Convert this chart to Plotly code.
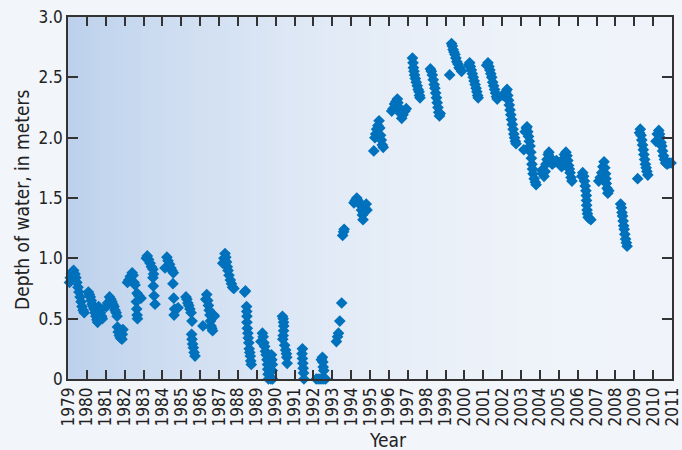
import plotly.graph_objects as go

# ---------------- data (decimal year, depth of water in meters) ----------------
dates_a = [
    1979.08, 1979.12, 1979.18, 1979.24, 1979.30, 1979.37, 1979.42, 1979.47, 1979.53, 1979.58, 1979.64, 1979.69, 1979.74, 1979.80, 1979.86,
    1980.08, 1980.13, 1980.18, 1980.23, 1980.28, 1980.33, 1980.38, 1980.43, 1980.48, 1980.53, 1980.57, 1980.62, 1980.67, 1980.72, 1980.78, 1980.82,
    1981.03, 1981.10, 1981.20, 1981.27, 1981.33, 1981.38, 1981.44, 1981.49, 1981.55, 1981.60, 1981.62, 1981.66, 1981.72, 1981.78, 1981.86, 1981.91, 1981.88,
    1982.15, 1982.22, 1982.30, 1982.40, 1982.45, 1982.50, 1982.55, 1982.66, 1982.75, 1982.87, 1982.62, 1982.64, 1982.66, 1982.68,
    1983.15, 1983.20, 1983.27, 1983.35, 1983.42, 1983.50, 1983.53, 1983.50, 1983.52, 1983.56, 1983.61,
    1984.14, 1984.24, 1984.30, 1984.38, 1984.45, 1984.51, 1984.58, 1984.56, 1984.60, 1984.65, 1984.62, 1984.83,
    1985.25, 1985.30, 1985.35, 1985.40, 1985.46, 1985.52, 1985.57, 1985.55, 1985.57, 1985.60, 1985.64, 1985.68, 1985.73,
    1986.15, 1986.30, 1986.35, 1986.40, 1986.44, 1986.48, 1986.52, 1986.55, 1986.58, 1986.62, 1986.66, 1986.72, 1986.75,
]
depth_a = [
    0.80, 0.84, 0.87, 0.89, 0.90, 0.87, 0.84, 0.80, 0.76, 0.72, 0.68, 0.64, 0.60, 0.57, 0.55,
    0.72, 0.70, 0.68, 0.65, 0.62, 0.60, 0.58, 0.55, 0.52, 0.49, 0.47, 0.60, 0.57, 0.55, 0.52, 0.50,
    0.60, 0.63, 0.68, 0.66, 0.64, 0.62, 0.60, 0.57, 0.55, 0.52, 0.43, 0.39, 0.36, 0.34, 0.33, 0.41, 0.37,
    0.80, 0.82, 0.85, 0.88, 0.86, 0.80, 0.78, 0.71, 0.69, 0.67, 0.64, 0.58, 0.53, 0.50,
    1.00, 1.02, 0.99, 0.96, 0.93, 0.91, 0.87, 0.84, 0.77, 0.69, 0.62,
    0.92, 1.01, 0.98, 0.95, 0.92, 0.90, 0.88, 0.79, 0.67, 0.58, 0.53, 0.59,
    0.68, 0.66, 0.63, 0.61, 0.58, 0.55, 0.48, 0.37, 0.33, 0.29, 0.26, 0.22, 0.19,
    0.44, 0.66, 0.70, 0.65, 0.61, 0.57, 0.53, 0.48, 0.44, 0.42, 0.40, 0.53, 0.52,
]

dates_b = [
    1987.20, 1987.26, 1987.32, 1987.36, 1987.40, 1987.44, 1987.48, 1987.53, 1987.60, 1987.66, 1987.72, 1987.79,
    1988.36, 1988.40, 1988.46, 1988.47, 1988.48, 1988.48, 1988.50, 1988.53, 1988.55, 1988.58, 1988.60, 1988.63, 1988.66, 1988.68, 1988.71,
    1989.22, 1989.30, 1989.34, 1989.38, 1989.42, 1989.46, 1989.50, 1989.54, 1989.57, 1989.58, 1989.60, 1989.62, 1989.75, 1989.84, 1989.78, 1989.80, 1989.83, 1989.82,
    1990.36, 1990.40, 1990.42, 1990.43, 1990.42, 1990.40, 1990.38, 1990.48, 1990.53, 1990.57, 1990.59, 1990.61,
    1991.42, 1991.40, 1991.42, 1991.44, 1991.46, 1991.48, 1991.50,
    1992.15, 1992.25, 1992.35, 1992.45, 1992.55, 1992.65, 1992.42, 1992.48, 1992.50, 1992.52, 1992.55,
    1993.22, 1993.28, 1993.33, 1993.40, 1993.50, 1993.55, 1993.60, 1993.63,
    1994.15, 1994.22, 1994.30, 1994.36, 1994.42, 1994.50, 1994.55, 1994.60, 1994.63, 1994.66, 1994.72, 1994.80, 1994.84,
]
depth_b = [
    0.96, 1.00, 1.04, 1.01, 0.97, 0.93, 0.90, 0.86, 0.82, 0.79, 0.76, 0.75,
    0.72, 0.73, 0.60, 0.56, 0.52, 0.47, 0.42, 0.38, 0.34, 0.30, 0.25, 0.22, 0.19, 0.15, 0.12,
    0.31, 0.38, 0.35, 0.30, 0.27, 0.23, 0.20, 0.16, 0.12, 0.08, 0.04, 0.00, 0.00, 0.00, 0.20, 0.16, 0.12, 0.07,
    0.52, 0.50, 0.47, 0.44, 0.40, 0.36, 0.33, 0.28, 0.24, 0.21, 0.18, 0.13,
    0.25, 0.21, 0.17, 0.13, 0.09, 0.05, 0.00,
    0.00, 0.00, 0.00, 0.00, 0.00, 0.00, 0.16, 0.18, 0.14, 0.10, 0.07,
    0.31, 0.35, 0.38, 0.48, 0.63, 1.19, 1.22, 1.24,
    1.46, 1.48, 1.50, 1.48, 1.46, 1.44, 1.40, 1.36, 1.32, 1.38, 1.42, 1.45, 1.40,
]

dates_c = [
    1995.20, 1995.26, 1995.30, 1995.35, 1995.42, 1995.48, 1995.52, 1995.56, 1995.60, 1995.65, 1995.70,
    1996.15, 1996.22, 1996.30, 1996.38, 1996.45, 1996.48, 1996.55, 1996.62, 1996.68, 1996.75, 1996.85, 1996.92,
    1997.25, 1997.28, 1997.30, 1997.33, 1997.36, 1997.40, 1997.45, 1997.50, 1997.55, 1997.60, 1997.62, 1997.65,
    1998.20, 1998.25, 1998.30, 1998.35, 1998.40, 1998.44, 1998.48, 1998.52, 1998.56, 1998.60, 1998.64, 1998.68, 1998.72,
    1999.22, 1999.32, 1999.36, 1999.40, 1999.45, 1999.50, 1999.55, 1999.60, 1999.66, 1999.72, 1999.78, 1999.85,
    2000.22, 2000.28, 2000.32, 2000.37, 2000.42, 2000.47, 2000.52, 2000.57, 2000.62, 2000.66, 2000.70, 2000.73,
    2001.18, 2001.25, 2001.30, 2001.35, 2001.40, 2001.45, 2001.50, 2001.55, 2001.60, 2001.65, 2001.70, 2001.74,
    2002.05, 2002.20, 2002.26, 2002.30, 2002.34, 2002.38, 2002.42, 2002.46, 2002.50, 2002.54, 2002.58, 2002.62, 2002.66, 2002.70, 2002.74,
]
depth_c = [
    1.89, 2.00, 2.03, 2.07, 2.10, 2.14, 2.08, 2.02, 1.98, 1.94, 1.92,
    2.22, 2.24, 2.28, 2.30, 2.32, 2.29, 2.25, 2.20, 2.16, 2.19, 2.22, 2.24,
    2.66, 2.62, 2.58, 2.55, 2.52, 2.49, 2.46, 2.43, 2.40, 2.38, 2.35, 2.33,
    2.57, 2.55, 2.52, 2.48, 2.44, 2.41, 2.37, 2.33, 2.29, 2.25, 2.21, 2.18, 2.20,
    2.52, 2.78, 2.76, 2.73, 2.71, 2.69, 2.66, 2.63, 2.61, 2.58, 2.57, 2.55,
    2.60, 2.62, 2.59, 2.56, 2.53, 2.50, 2.47, 2.44, 2.41, 2.38, 2.35, 2.33,
    2.60, 2.62, 2.59, 2.56, 2.53, 2.50, 2.46, 2.43, 2.40, 2.37, 2.34, 2.32,
    2.35, 2.38, 2.40, 2.35, 2.31, 2.27, 2.23, 2.19, 2.15, 2.11, 2.07, 2.03, 2.00, 1.97, 1.95,
]

dates_d = [
    2003.15, 2003.22, 2003.28, 2003.32, 2003.36, 2003.40, 2003.44, 2003.48, 2003.52, 2003.55, 2003.58, 2003.61, 2003.64, 2003.70, 2003.76, 2003.80,
    2004.10, 2004.15, 2004.22, 2004.28, 2004.32, 2004.38, 2004.44, 2004.48, 2004.52, 2004.58, 2004.65, 2004.72, 2004.80, 2004.88,
    2005.08, 2005.15, 2005.22, 2005.30, 2005.38, 2005.44, 2005.48, 2005.52, 2005.56, 2005.60, 2005.65, 2005.70,
    2006.22, 2006.27, 2006.32, 2006.36, 2006.40, 2006.44, 2006.46, 2006.47, 2006.48, 2006.50, 2006.52, 2006.56, 2006.62, 2006.70,
    2007.12, 2007.20, 2007.28, 2007.34, 2007.40, 2007.44, 2007.48, 2007.50, 2007.52, 2007.56, 2007.60, 2007.65,
    2008.28, 2008.32, 2008.35, 2008.38, 2008.41, 2008.44, 2008.47, 2008.50, 2008.54, 2008.58, 2008.62,
    2009.18, 2009.28, 2009.32, 2009.36, 2009.40, 2009.44, 2009.48, 2009.51, 2009.55, 2009.59, 2009.63, 2009.67, 2009.72,
    2010.15, 2010.22, 2010.30, 2010.34, 2010.38, 2010.42, 2010.46, 2010.50, 2010.55, 2010.60, 2010.66, 2010.74, 2010.85, 2010.95,
]
depth_d = [
    1.90, 2.05, 2.08, 2.09, 2.05, 2.01, 1.97, 1.93, 1.88, 1.83, 1.78, 1.74, 1.70, 1.66, 1.63, 1.61,
    1.73, 1.70, 1.68, 1.72, 1.78, 1.82, 1.86, 1.88, 1.84, 1.80, 1.78, 1.79, 1.80, 1.81,
    1.79, 1.76, 1.82, 1.86, 1.88, 1.85, 1.81, 1.77, 1.74, 1.71, 1.67, 1.64,
    1.68, 1.71, 1.68, 1.64, 1.60, 1.56, 1.52, 1.48, 1.44, 1.40, 1.37, 1.34, 1.33, 1.32,
    1.64, 1.67, 1.71, 1.76, 1.80, 1.75, 1.70, 1.66, 1.62, 1.58, 1.54, 1.56,
    1.45, 1.42, 1.38, 1.35, 1.31, 1.27, 1.24, 1.20, 1.16, 1.13, 1.10,
    1.66, 2.04, 2.07, 2.02, 1.98, 1.94, 1.90, 1.86, 1.82, 1.78, 1.75, 1.72, 1.69,
    1.97, 2.03, 2.06, 2.03, 2.00, 1.96, 1.93, 1.89, 1.85, 1.82, 1.79, 1.78, 1.79, 1.79,
]

year_ticks = list(range(1979, 2012))
depth_ticks = [0, 0.5, 1.0, 1.5, 2.0, 2.5, 3.0]
depth_tick_text = ["0", "0.5", "1.0", "1.5", "2.0", "2.5", "3.0"]

dates = dates_a + dates_b + dates_c + dates_d
depths = depth_a + depth_b + depth_c + depth_d

# ---------------- figure ----------------
FONT = "Liberation Sans Narrow, DejaVu Sans Condensed, Arial Narrow, sans-serif"
AX = "#333333"
TXT = "#222222"
PAGE = "#f2f5fa"

fig = go.Figure()
fig.add_trace(go.Scatter(
    x=dates, y=depths, mode="markers",
    marker=dict(symbol="diamond", size=9, color="#0071bc", line=dict(width=0)),
    cliponaxis=False, hoverinfo="x+y", showlegend=False,
))

# horizontal gradient background of the plot area
left = (188, 209, 236)
right = (240, 244, 250)
n = 90
shapes = []
for i in range(n):
    f = (i + 0.5) / n
    w = (1 - f) ** 2.2
    c = tuple(round(right[k] + (left[k] - right[k]) * w) for k in range(3))
    shapes.append(dict(type="rect", xref="paper", yref="paper",
                       x0=i / n, x1=(i + 1) / n + 0.002, y0=0, y1=1,
                       fillcolor="rgb(%d,%d,%d)" % c, line=dict(width=0), layer="below"))

fig.update_layout(
    width=682, height=450,
    margin=dict(l=68, r=10, t=17, b=71, autoexpand=False),
    paper_bgcolor=PAGE,
    plot_bgcolor="rgba(0,0,0,0)",
    shapes=shapes,
    font=dict(family=FONT, color=TXT),
    xaxis=dict(
        range=[1979, 2011], tickvals=year_ticks, ticktext=[str(y) for y in year_ticks],
        tickangle=-90, ticks="inside", ticklen=9, tickwidth=1.5, tickcolor=AX,
        showline=True, linecolor=AX, linewidth=1.5, mirror="ticks", automargin=False,
        showgrid=False, zeroline=False, tickfont=dict(size=17, family=FONT, color=TXT),
    ),
    yaxis=dict(
        range=[0, 3], tickvals=depth_ticks, ticktext=depth_tick_text,
        ticks="inside", ticklen=10, tickwidth=1.5, tickcolor=AX,
        showline=True, linecolor=AX, linewidth=1.5, mirror="ticks", automargin=False,
        showgrid=False, zeroline=False, tickfont=dict(size=17, family=FONT, color=TXT),
    ),
    annotations=[
        dict(text="Year", xref="paper", yref="paper", x=0.53, y=-0.133, yanchor="top",
             xanchor="center", showarrow=False, font=dict(size=19, family=FONT, color=TXT)),
        dict(text="Depth of water, in meters", xref="paper", yref="paper", x=-0.076, y=0.495,
             xanchor="center", yanchor="middle", textangle=-90, showarrow=False,
             font=dict(size=19, family=FONT, color=TXT)),
    ],
)

fig.write_html(
    "out.html",
    config={"displayModeBar": False},
    post_script="document.body.style.margin='0px';document.body.style.background='%s';" % PAGE,
)
